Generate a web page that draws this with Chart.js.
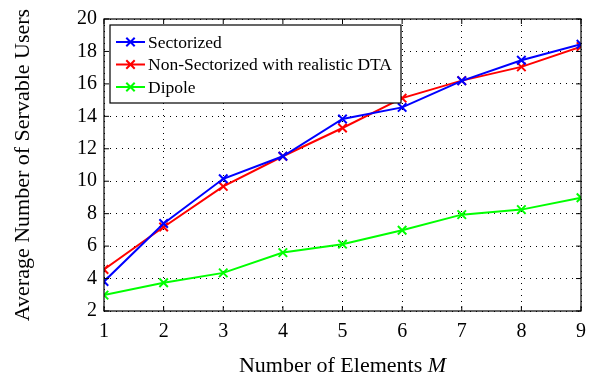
<!DOCTYPE html>
<html>
<head>
<meta charset="utf-8">
<script src="https://cdn.jsdelivr.net/npm/chart.js@4/dist/chart.umd.min.js"></script>
<style>
  html, body { margin: 0; padding: 0; background: #fff; }
  #wrap { width: 597px; height: 378px; }
</style>
</head>
<body>
<div id="wrap"><canvas id="c" width="597" height="378"></canvas></div>
<script>
const elements = [1, 2, 3, 4, 5, 6, 7, 8, 9];
const sectorized = [3.82, 7.39, 10.15, 11.54, 13.84, 14.55, 16.19, 17.46, 18.44];
const nonSectorized = [4.56, 7.18, 9.68, 11.54, 13.28, 15.12, 16.2, 17.05, 18.3];
const dipole = [2.98, 3.74, 4.35, 5.6, 6.12, 6.98, 7.94, 8.25, 8.98];
const seriesNames = ['Sectorized', 'Non-Sectorized with realistic DTA', 'Dipole'];
const seriesColors = ['#0000ff', '#ff0000', '#00ff00'];

const serif = '"Liberation Serif", "DejaVu Serif", serif';

function makeSet(label, values, color) {
    return {
        label: label,
        data: elements.map((x, i) => ({ x: x, y: values[i] })),
        borderColor: color,
        backgroundColor: color,
        borderWidth: 2,
        pointStyle: 'crossRot',
        pointRadius: 6,
        pointBorderWidth: 2,
        pointHoverRadius: 6,
        tension: 0,
        fill: false
    };
}

// frame, inward ticks, titles and legend
const decorations = {
    id: 'decorations',
    afterDraw(chart) {
        const ctx = chart.ctx;
        const a = chart.chartArea;
        const xs = chart.scales.x, ys = chart.scales.y;
        ctx.save();
        ctx.strokeStyle = '#000';
        ctx.lineWidth = 1.2;
        ctx.strokeRect(a.left, a.top, a.right - a.left, a.bottom - a.top);
        ctx.lineWidth = 1;
        ctx.beginPath();
        xs.ticks.forEach(t => {
            const px = xs.getPixelForValue(t.value);
            ctx.moveTo(px, a.bottom); ctx.lineTo(px, a.bottom - 5);
            ctx.moveTo(px, a.top); ctx.lineTo(px, a.top + 5);
        });
        ys.ticks.forEach(t => {
            const py = ys.getPixelForValue(t.value);
            ctx.moveTo(a.left, py); ctx.lineTo(a.left + 5, py);
            ctx.moveTo(a.right, py); ctx.lineTo(a.right - 5, py);
        });
        ctx.stroke();

        // axis titles
        ctx.fillStyle = '#000';
        ctx.textBaseline = 'middle';
        const xt = 'Number of Elements ';
        ctx.font = '22px ' + serif;
        const w1 = ctx.measureText(xt).width;
        ctx.font = 'italic 22px ' + serif;
        const w2 = ctx.measureText('M').width;
        const cx = (a.left + a.right) / 2;
        const sx = cx - (w1 + w2) / 2;
        ctx.textAlign = 'left';
        ctx.font = '22px ' + serif;
        ctx.fillText(xt, sx, 366);
        ctx.font = 'italic 22px ' + serif;
        ctx.fillText('M', sx + w1, 366);

        ctx.save();
        ctx.translate(23, 165);
        ctx.rotate(-Math.PI / 2);
        ctx.textAlign = 'center';
        ctx.font = '22px ' + serif;
        ctx.fillText('Average Number of Servable Users', 0, 0);
        ctx.restore();

        // legend
        const lx = a.left + 6, ly = a.top + 6, lw = 291, lh = 78;
        ctx.fillStyle = '#fff';
        ctx.fillRect(lx, ly, lw, lh);
        ctx.lineWidth = 1.2;
        ctx.strokeStyle = '#000';
        ctx.strokeRect(lx, ly, lw, lh);
        chart.data.datasets.forEach((ds, i) => {
            const y = ly + 17 + i * 22.5;
            ctx.strokeStyle = ds.borderColor;
            ctx.lineWidth = 2;
            ctx.beginPath();
            ctx.moveTo(lx + 6, y); ctx.lineTo(lx + 35, y);
            const mx = lx + 20.5, r = 4.2;
            ctx.moveTo(mx - r, y - r); ctx.lineTo(mx + r, y + r);
            ctx.moveTo(mx - r, y + r); ctx.lineTo(mx + r, y - r);
            ctx.stroke();
            ctx.fillStyle = '#000';
            ctx.font = '17.5px ' + serif;
            ctx.textAlign = 'left';
            ctx.fillText(ds.label, lx + 38, y + 1);
        });
        ctx.restore();
    }
};

new Chart(document.getElementById('c'), {
    type: 'line',
    data: {
        datasets: [
            makeSet(seriesNames[0], sectorized, seriesColors[0]),
            makeSet(seriesNames[1], nonSectorized, seriesColors[1]),
            makeSet(seriesNames[2], dipole, seriesColors[2])
        ]
    },
    options: {
        responsive: false,
        animation: false,
        devicePixelRatio: 1,
        layout: { padding: { left: 0, right: 16, top: 18, bottom: 0 } },
        plugins: {
            legend: { display: false },
            tooltip: { enabled: false },
            title: { display: false }
        },
        scales: {
            x: {
                type: 'linear',
                min: 1,
                max: 9,
                afterFit: s => { s.height = 67; },
                ticks: {
                    stepSize: 1,
                    color: '#000',
                    font: { family: serif, size: 20 },
                    padding: 9
                },
                border: { display: false },
                grid: {
                    color: '#000',
                    lineWidth: 1,
                    drawTicks: false,
                    tickLength: 0
                }
            },
            y: {
                min: 2,
                max: 20,
                afterFit: s => { s.width = 104; },
                ticks: {
                    stepSize: 2,
                    color: '#000',
                    font: { family: serif, size: 20 },
                    padding: 7
                },
                border: { display: false },
                grid: {
                    color: '#000',
                    lineWidth: 1,
                    drawTicks: false,
                    tickLength: 0
                }
            }
        }
    },
    plugins: [decorations, {
        id: 'dottedGrid',
        beforeDraw(chart) {
            ['x', 'y'].forEach(k => {
                chart.scales[k].options.border.dash = [1, 5];
                chart.scales[k].options.grid.borderDash = [1, 5];
            });
        }
    }]
});
</script>
</body>
</html>
